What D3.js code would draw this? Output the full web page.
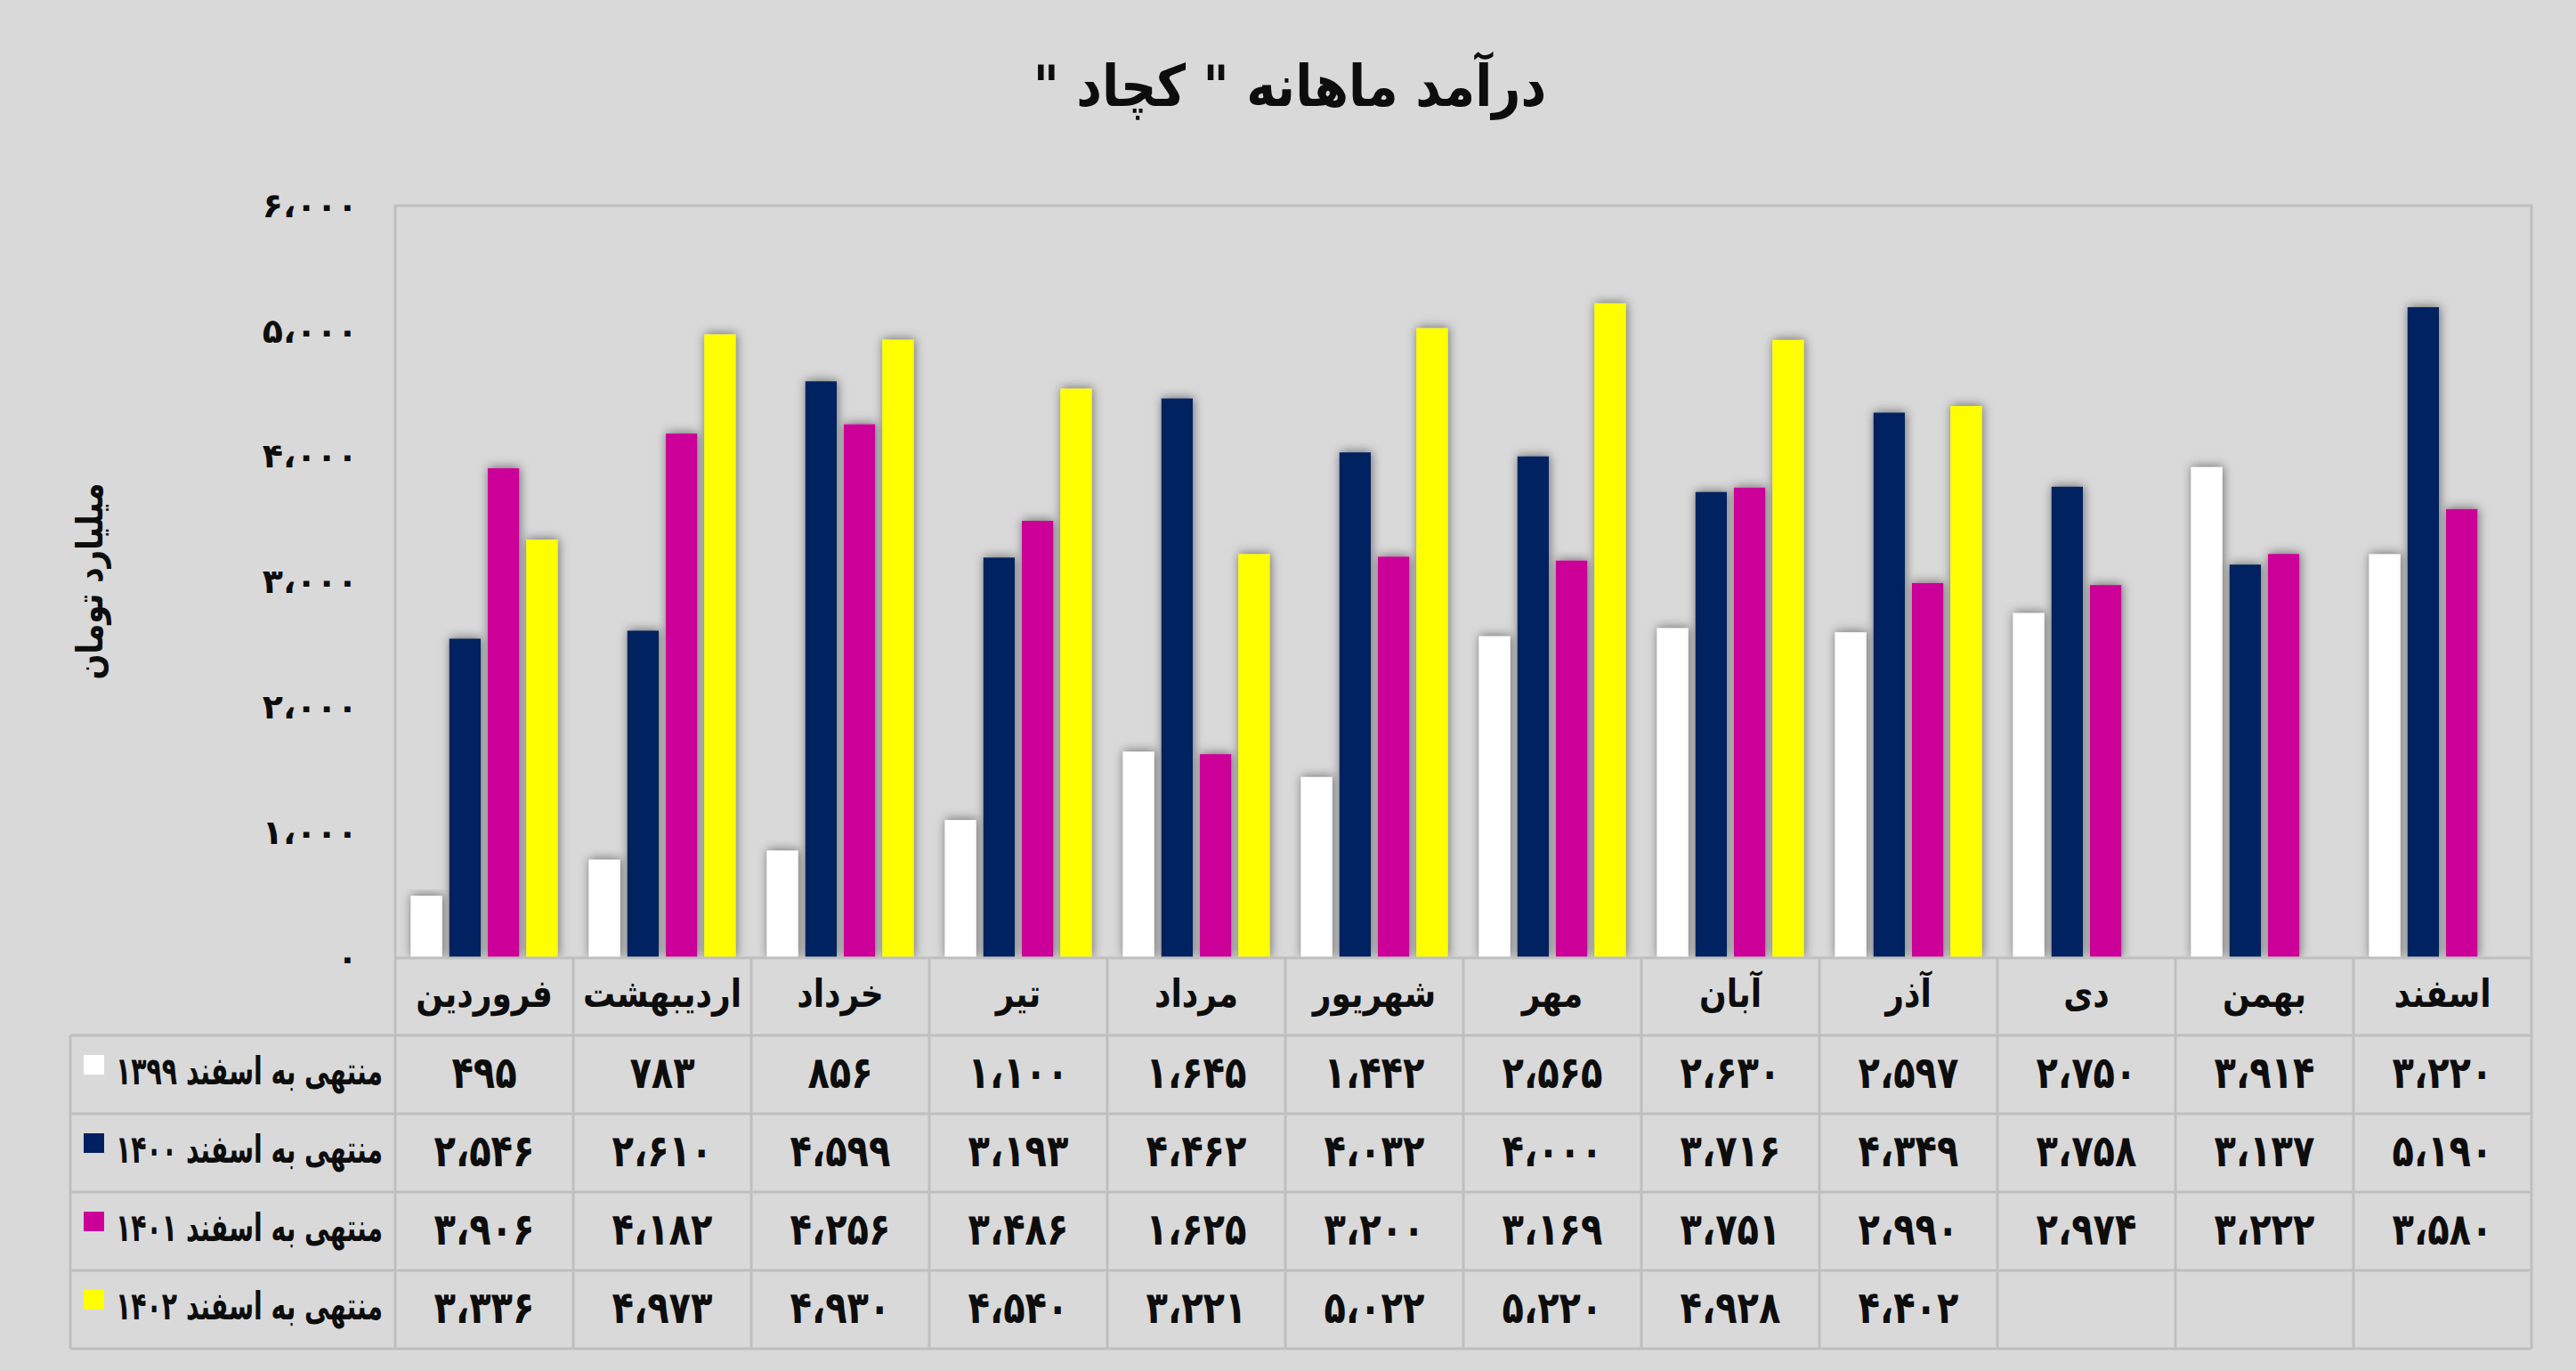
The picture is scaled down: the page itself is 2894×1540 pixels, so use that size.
<!DOCTYPE html>
<html>
<head>
<meta charset="utf-8">
<script src="https://cdn.jsdelivr.net/npm/d3@7"></script>
<style>
  html, body { margin: 0; padding: 0; background: #D9D9D9; }
  svg { display: block; }
  text { font-family: "DejaVu Sans", "Noto Sans", sans-serif; font-weight: bold; fill: #0d0d0d; }
</style>
</head>
<body>
<script>
// ---------- DATA ----------
const months = ["فروردین", "اردیبهشت", "خرداد", "تیر", "مرداد", "شهریور", "مهر", "آبان", "آذر", "دی", "بهمن", "اسفند"];
const seriesNames = ["منتهی به اسفند ۱۳۹۹", "منتهی به اسفند ۱۴۰۰", "منتهی به اسفند ۱۴۰۱", "منتهی به اسفند ۱۴۰۲"];
const values1399 = [495, 783, 856, 1100, 1645, 1442, 2565, 2630, 2597, 2750, 3914, 3220];
const values1400 = [2546, 2610, 4599, 3193, 4462, 4032, 4000, 3716, 4349, 3758, 3137, 5190];
const values1401 = [3906, 4182, 4256, 3486, 1625, 3200, 3169, 3751, 2990, 2974, 3222, 3580];
const values1402 = [3336, 4973, 4930, 4540, 3221, 5022, 5220, 4928, 4402, null, null, null];
const yTicks = [0, 1000, 2000, 3000, 4000, 5000, 6000];
const titleText = 'درآمد ماهانه " کچاد "';
const yLabel = "میلیارد تومان";
const colors = ["#FFFFFF", "#002060", "#CC0099", "#FFFF00"];

const series = [values1399, values1400, values1401, values1402];

// ---------- LAYOUT ----------
const W = 2894, H = 1540;
const plotL = 444, plotR = 2844, plotT = 231, plotB = 1076;
const tableL = 79;
const catRowB = 1163;
const rowH = 88;

const faDigits = "۰۱۲۳۴۵۶۷۸۹";
function fa(n) {
  return d3.format(",")(n).replace(/[0-9]/g, d => faDigits[+d]).replace(/,/g, "،");
}

const svg = d3.select("body").append("svg").attr("width", W).attr("height", H);
svg.append("rect").attr("width", W).attr("height", H).attr("fill", "#D9D9D9");

const defs = svg.append("defs");
const f = defs.append("filter").attr("id", "shadow")
  .attr("x", "-60%").attr("y", "-10%").attr("width", "220%").attr("height", "130%");
f.append("feDropShadow").attr("dx", 1).attr("dy", -1).attr("stdDeviation", 6)
  .attr("flood-color", "#000").attr("flood-opacity", 0.5);
defs.append("clipPath").attr("id", "plotClip").append("rect")
  .attr("x", plotL).attr("y", plotT - 40).attr("width", plotR - plotL).attr("height", plotB - plotT + 40);

const x0 = d3.scaleBand().domain(months).range([plotL, plotR]).paddingInner(0).paddingOuter(0);
const x1 = d3.scaleBand().domain(d3.range(4)).range([17.5, x0.bandwidth() - 17.5]).paddingInner(0.185).paddingOuter(0);
const y = d3.scaleLinear().domain([0, 6000]).range([plotB, plotT]);

// Title
svg.append("text").attr("transform", "translate(1449,101) scale(1,1.15)")
  .attr("text-anchor", "middle").attr("dominant-baseline", "middle")
  .attr("direction", "rtl").style("direction", "rtl")
  .attr("font-size", 56).text(titleText);

// Y axis label
svg.append("text").attr("transform", "translate(104,653) rotate(-90) scale(1,1.2)")
  .attr("text-anchor", "middle").attr("dominant-baseline", "middle")
  .attr("font-size", 34).text(yLabel);

// Y axis tick labels via d3 axis
const yAxis = d3.axisLeft(y).tickValues(yTicks).tickSize(0).tickPadding(0).tickFormat(fa);
const gy = svg.append("g").attr("transform", `translate(402,0)`).call(yAxis);
gy.select(".domain").remove();
gy.selectAll("text").attr("font-size", 38).attr("fill", "#0d0d0d")
  .style("font-family", '"DejaVu Sans", sans-serif').style("font-weight", "bold");

// Plot frame
const grid = "#BFBFBF";
svg.append("path")
  .attr("d", `M${plotL},${plotB} L${plotL},${plotT} L${plotR},${plotT} L${plotR},${plotB}`)
  .attr("fill", "none").attr("stroke", grid).attr("stroke-width", 3);

// Bars
const barsG = svg.append("g").attr("clip-path", "url(#plotClip)");
const groups = barsG.selectAll("g.m").data(months).join("g")
  .attr("transform", d => `translate(${x0(d)},0)`);
groups.selectAll("rect").data((m, i) => series.map((s, k) => ({k, v: s[i]})).filter(d => d.v != null))
  .join("rect")
  .attr("x", d => x1(d.k))
  .attr("width", x1.bandwidth())
  .attr("y", d => y(d.v))
  .attr("height", d => y(0) - y(d.v))
  .attr("fill", d => colors[d.k])
  .attr("filter", "url(#shadow)");

// Table
const tableB = catRowB + rowH * 4;
const lines = svg.append("g").attr("stroke", grid).attr("stroke-width", 3).attr("fill", "none");
lines.append("line").attr("x1", plotL).attr("x2", plotR).attr("y1", plotB).attr("y2", plotB);
for (let r = 0; r <= 4; r++) {
  const yy = catRowB + r * rowH;
  lines.append("line").attr("x1", tableL).attr("x2", plotR).attr("y1", yy).attr("y2", yy);
}
months.forEach(m => {
  lines.append("line").attr("x1", x0(m)).attr("x2", x0(m)).attr("y1", plotB).attr("y2", tableB);
});
lines.append("line").attr("x1", plotR).attr("x2", plotR).attr("y1", plotB).attr("y2", tableB);
lines.append("line").attr("x1", tableL).attr("x2", tableL).attr("y1", catRowB).attr("y2", tableB);

// Category labels
svg.append("g").selectAll("text").data(months).join("text")
  .attr("transform", d => `translate(${x0(d) + x0.bandwidth() / 2},${(plotB + catRowB) / 2}) scale(1,1.2)`)
  .attr("text-anchor", "middle").attr("dominant-baseline", "middle")
  .attr("font-size", 36).text(d => d);

// Legend column + values
series.forEach((s, k) => {
  const cy = catRowB + k * rowH + rowH / 2;
  svg.append("rect").attr("x", 94).attr("y", cy - 22).attr("width", 23).attr("height", 22)
    .attr("fill", colors[k]);
  svg.append("text").attr("transform", `translate(430,${cy}) scale(1,1.2)`)
    .attr("text-anchor", "end").attr("dominant-baseline", "middle")
    .attr("font-size", 36)
    .attr("textLength", 300).attr("lengthAdjust", "spacingAndGlyphs")
    .text(seriesNames[k]);
  svg.append("g").selectAll("text").data(months.map((m, i) => ({m, v: s[i]})).filter(d => d.v != null))
    .join("text")
    .attr("transform", d => `translate(${x0(d.m) + x0.bandwidth() / 2},${cy + 2}) scale(1,1.25)`)
    .attr("text-anchor", "middle").attr("dominant-baseline", "middle")
    .attr("font-size", 40).text(d => fa(d.v));
});
</script>
</body>
</html>
